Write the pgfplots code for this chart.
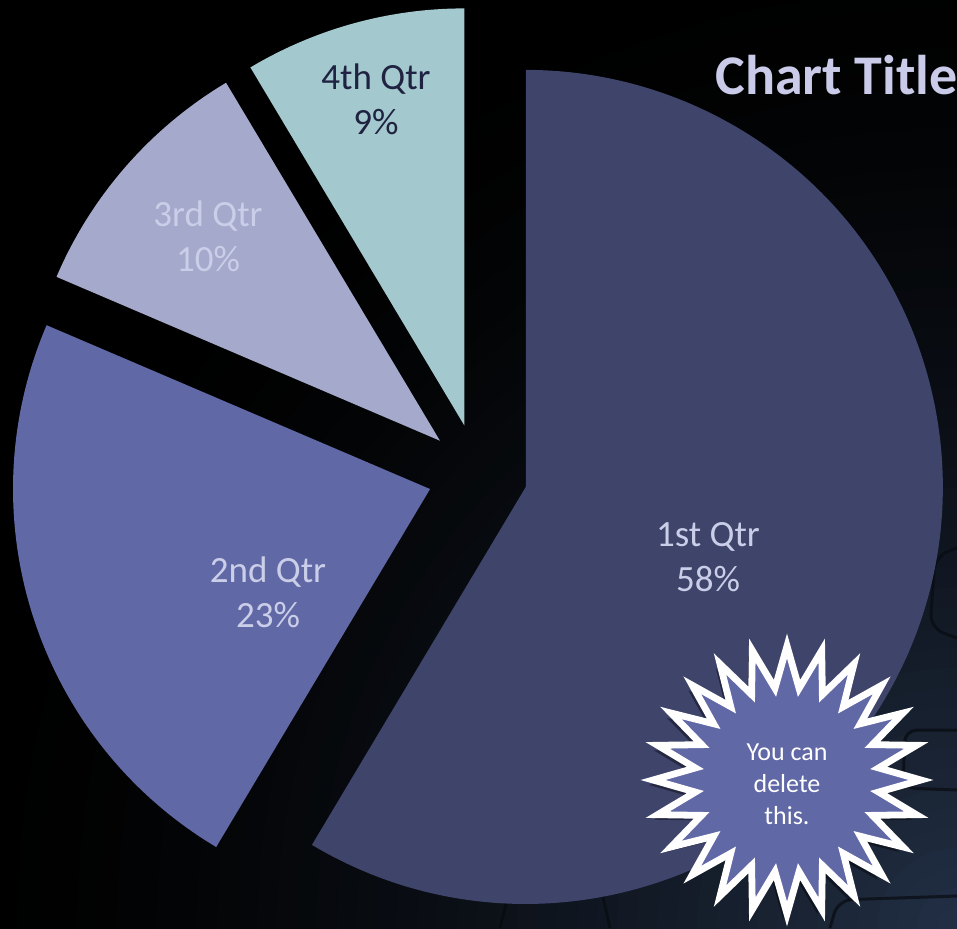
\documentclass[border=0pt]{standalone}
\usepackage{pgfplots}
\pgfplotsset{compat=1.18}
\usepackage{pgfplotstable}
\usepackage{fontspec}
\setmainfont{Carlito}
\usetikzlibrary{shapes.geometric,shadows}

\definecolor{q1}{HTML}{3F446B}
\definecolor{q2}{HTML}{6168A6}
\definecolor{q3}{HTML}{A5A9CB}
\definecolor{q4}{HTML}{A3C8CD}
\definecolor{labl}{HTML}{CBCEE8}
\definecolor{labd}{HTML}{1F2341}
\definecolor{ttl}{HTML}{C9CBE9}
\definecolor{bgc}{HTML}{223046}
\definecolor{pz}{HTML}{05070A}

\pgfplotstableread{
label value
1 8.2
2 3.2
3 1.4
4 1.2
}\piedata

\pgfplotstablegetelem{0}{value}\of\piedata \let\va\pgfplotsretval
\pgfplotstablegetelem{1}{value}\of\piedata \let\vb\pgfplotsretval
\pgfplotstablegetelem{2}{value}\of\piedata \let\vc\pgfplotsretval
\pgfplotstablegetelem{3}{value}\of\piedata \let\vd\pgfplotsretval
\pgfmathsetmacro\tot{\va+\vb+\vc+\vd}
\pgfmathsetmacro\bA{90-\va/\tot*360}
\pgfmathsetmacro\bB{\bA-\vb/\tot*360}
\pgfmathsetmacro\bC{\bB-\vc/\tot*360}
\pgfmathsetmacro\bD{\bC-\vd/\tot*360}
% apex of each exploded slice (centre 477.6,454.4; explosion 50)
\pgfmathsetmacro\axA{477.6+50*cos((\bA+90)/2)}
\pgfmathsetmacro\ayA{454.4+50*sin((\bA+90)/2)}
\pgfmathsetmacro\axB{477.6+50*cos((\bB+\bA)/2)}
\pgfmathsetmacro\ayB{454.4+50*sin((\bB+\bA)/2)}
\pgfmathsetmacro\axC{477.6+50*cos((\bC+\bB)/2)}
\pgfmathsetmacro\ayC{454.4+50*sin((\bC+\bB)/2)}
\pgfmathsetmacro\axD{477.6+50*cos((\bD+\bC)/2)}
\pgfmathsetmacro\ayD{454.4+50*sin((\bD+\bC)/2)}

\begin{document}
\begin{tikzpicture}
% background: dark, lit from the lower right
\fill[black] (0,0) rectangle (478.5pt,464pt);
\begin{scope}
\clip (0,0) rectangle (478.5pt,464pt);
\foreach \i in {50,49,...,1}{%
  \pgfmathsetmacro\f{100*(1-\i/50)^1.6}%
  \fill[bgc!\f!black] (478.5pt,0) circle[radius=\i*10pt];}
% faint puzzle-piece outlines
\draw[pz, line width=1.5pt, opacity=0.6, rounded corners=6pt]
  (478.5pt,99pt) -- (452.5pt,99pt) -- (451.5pt,70pt) -- (478.5pt,69pt);
\draw[pz, line width=1.5pt, opacity=0.6, rounded corners=7pt]
  (415pt,0pt) -- (419pt,14pt) -- (478.5pt,16pt);
\draw[pz, line width=1.5pt, opacity=0.5, rounded corners=7pt]
  (478.5pt,190pt) -- (467.5pt,186pt) -- (465pt,150pt) -- (478.5pt,145pt);
\draw[pz, line width=1.5pt, opacity=0.5, rounded corners=6pt]
  (250pt,0pt) -- (255pt,20pt) -- (300pt,22pt) -- (305pt,0pt);
\end{scope}
\begin{axis}[
  at={(0,0)}, anchor=south west,
  x=0.5pt, y=0.5pt, scale only axis,
  xmin=0, xmax=957, ymin=0, ymax=928,
  hide axis, clip=true,
]
\coordinate (SW) at (axis cs:0,0);
\coordinate (NE) at (axis cs:957,928);

\fill[q1] (axis cs:\axA,\ayA) -- ++(\bA:208.5pt) arc[start angle=\bA, end angle=90, radius=208.5pt] -- cycle;
\fill[q2] (axis cs:\axB,\ayB) -- ++(\bB:208.5pt) arc[start angle=\bB, end angle=\bA, radius=208.5pt] -- cycle;
\fill[q3] (axis cs:\axC,\ayC) -- ++(\bC:208.5pt) arc[start angle=\bC, end angle=\bB, radius=208.5pt] -- cycle;
\fill[q4] (axis cs:\axD,\ayD) -- ++(\bD:208.5pt) arc[start angle=\bD, end angle=\bC, radius=208.5pt] -- cycle;

\node[align=center, text=labl, font=\fontsize{18.5}{22.5}\selectfont] at (axis cs:708,371) {1st Qtr\\58\%};
\node[align=center, text=labl, font=\fontsize{18.5}{22.5}\selectfont] at (axis cs:268,336) {2nd Qtr\\23\%};
\node[align=center, text=labl, font=\fontsize{18.5}{22.5}\selectfont] at (axis cs:208,692) {3rd Qtr\\10\%};
\node[align=center, text=labd, font=\fontsize{18.5}{22.5}\selectfont] at (axis cs:376,829) {4th Qtr\\9\%};

\node[anchor=base west, text=ttl, font=\fontsize{28}{34}\selectfont\bfseries, inner sep=0pt] at (axis cs:715,833) {Chart Title};

\node[star, star points=24, star point ratio=1.45, minimum size=134pt, inner sep=0pt,
      fill=q2, draw=white, line width=3.4pt,
      drop shadow={shadow xshift=-2pt, shadow yshift=-2.5pt, opacity=0.4, fill=black}]
      at (axis cs:787,148) {};
\node[align=center, text=white, font=\fontsize{13}{16}\selectfont] at (axis cs:787,144) {You can\\delete\\this.};
\end{axis}
\pgfresetboundingbox
\path[use as bounding box] (SW) rectangle (NE);
\end{tikzpicture}
\end{document}
